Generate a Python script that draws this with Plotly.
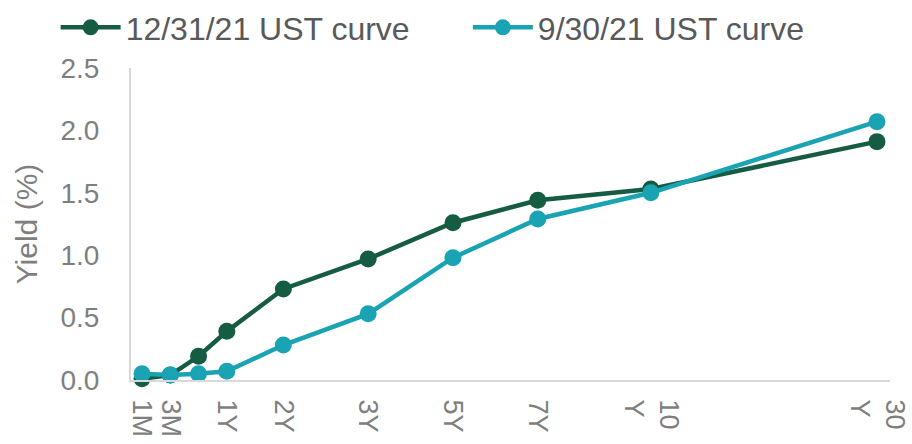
import plotly.graph_objects as go

# Treasury maturities and their spacing slots along the x axis
tenors = ["1M", "3M", "6M", "1Y", "2Y", "3Y", "5Y", "7Y", "10Y", "30Y"]
slots = [0, 1, 2, 3, 5, 8, 11, 14, 18, 26]
tick_text = ["1M", "3M", "", "1Y", "2Y", "3Y", "5Y", "7Y", "10<br>Y", "30<br>Y"]

# Yields (%)
ust_dec21 = [0.01, 0.04, 0.19, 0.39, 0.73, 0.97, 1.26, 1.44, 1.53, 1.91]
ust_sep21 = [0.05, 0.04, 0.05, 0.07, 0.28, 0.53, 0.98, 1.29, 1.50, 2.07]

dark = "#165c43"
teal = "#19a3b3"

fig = go.Figure()
fig.add_trace(go.Scatter(
    x=slots, y=ust_dec21, name="12/31/21 UST curve", text=tenors,
    mode="lines+markers", cliponaxis=False, legend="legend",
    line=dict(color=dark, width=4.5),
    marker=dict(color=dark, size=17),
))
fig.add_trace(go.Scatter(
    x=slots, y=ust_sep21, name="9/30/21 UST curve", text=tenors,
    mode="lines+markers", cliponaxis=False, legend="legend2",
    line=dict(color=teal, width=4.5),
    marker=dict(color=teal, size=17),
))

legend_style = dict(
    orientation="h", y=1.0, xref="container", yref="container",
    xanchor="left", yanchor="top",
    font=dict(size=32, color="#595959"),
    itemwidth=60, bgcolor="rgba(0,0,0,0)",
)

fig.update_layout(
    width=912, height=444,
    margin=dict(l=131, r=22, t=68, b=64, autoexpand=False),
    paper_bgcolor="white", plot_bgcolor="white",
    font=dict(family="Liberation Sans, Arial, sans-serif", color="#7f7f7f"),
    showlegend=True,
    legend=dict(x=0.061, **legend_style),
    legend2=dict(x=0.513, **legend_style),
    xaxis=dict(
        range=[-0.39, 26.46], tickvals=slots, ticktext=tick_text,
        tickangle=90, showgrid=False, zeroline=False,
        showline=True, linecolor="#d9d9d9", linewidth=2,
        ticks="", ticklabelstandoff=12,
        tickfont=dict(size=27, color="#7f7f7f"),
    ),
    yaxis=dict(
        range=[0, 2.5], tickvals=[0, 0.5, 1.0, 1.5, 2.0, 2.5],
        tickformat=".1f", showgrid=False, zeroline=False,
        showline=True, linecolor="#d9d9d9", linewidth=2,
        ticks="", ticklabelstandoff=24,
        tickfont=dict(size=28, color="#7f7f7f"),
        title=dict(text="Yield (%)", font=dict(size=30, color="#7f7f7f"), standoff=14),
    ),
)

fig.write_html("out.html")
